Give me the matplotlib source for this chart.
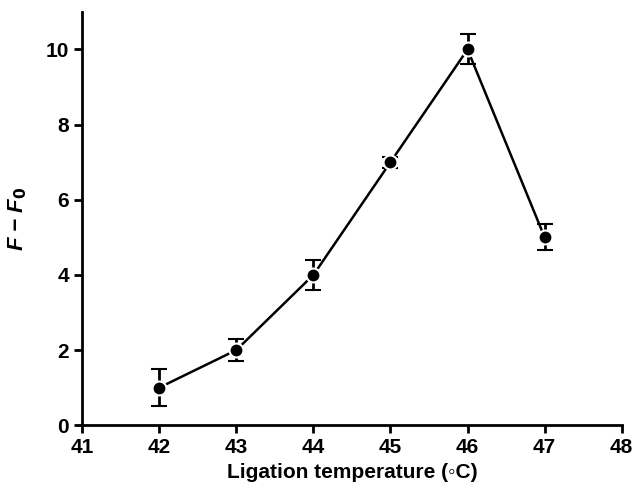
import matplotlib
matplotlib.use("Agg")
import matplotlib.pyplot as plt

temps = [42, 43, 44, 45, 46, 47]
signal = [1.0, 2.0, 4.0, 7.0, 10.0, 5.0]
err = [0.5, 0.3, 0.4, 0.15, 0.4, 0.35]
xticks = [41, 42, 43, 44, 45, 46, 47, 48]
yticks = [0, 2, 4, 6, 8, 10]

plt.rcParams['font.family'] = ['Liberation Sans', 'DejaVu Sans']
plt.rcParams['font.weight'] = 'bold'

fig = plt.figure(figsize=(6.37, 4.95), dpi=100)
ax = fig.add_axes([0.129, 0.141, 0.847, 0.835])

ax.plot(temps, signal, color='black', lw=1.8, zorder=2)
ax.errorbar(temps, signal, yerr=err, fmt='o', color='black', ms=10,
            mec='white', mew=1.5, ecolor='black', elinewidth=2,
            capsize=6, capthick=2, zorder=3)

ax.set_xlim(41, 48)
ax.set_ylim(0, 11)
ax.set_xticks(xticks)
ax.set_yticks(yticks)
for s in ['top', 'right']:
    ax.spines[s].set_visible(False)
for s in ['left', 'bottom']:
    ax.spines[s].set_linewidth(2)
ax.tick_params(width=2, length=6, labelsize=15, direction='out')
for lab in ax.get_xticklabels() + ax.get_yticklabels():
    lab.set_fontweight('bold')

ax.set_xlabel('Ligation temperature (\u25e6C)', fontsize=15, fontweight='bold')
ax.set_ylabel('F \u2212 F$_{\\mathbf{0}}$',
              fontsize=16, fontweight='bold', fontstyle='italic', labelpad=12)

fig.savefig('out.png', dpi=100)
